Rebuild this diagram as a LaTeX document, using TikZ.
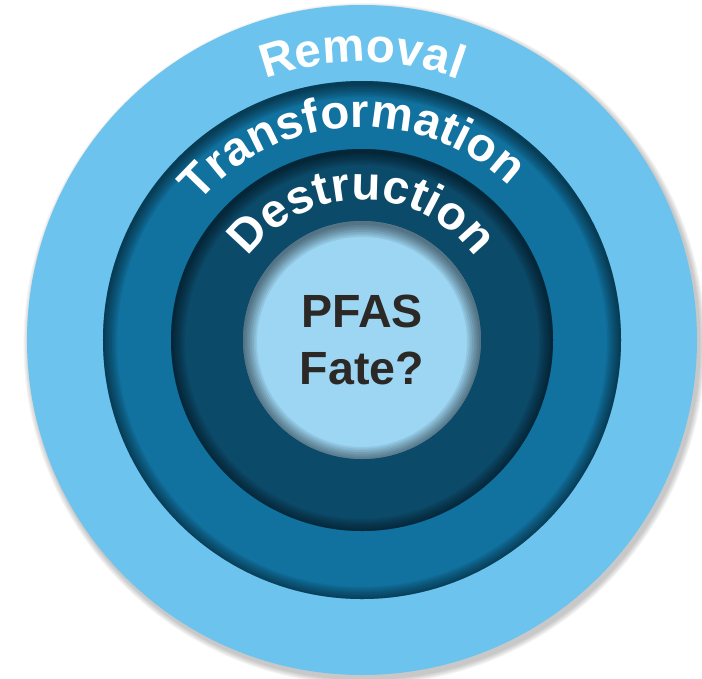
\documentclass[tikz,border=0pt]{standalone}
\usepackage{fontspec}
\setmainfont{Liberation Sans}
\usetikzlibrary{decorations.text}

\definecolor{ringlight}{RGB}{108,196,238}
\definecolor{ringmid}{RGB}{17,113,159}
\definecolor{ringdark}{RGB}{12,74,105}
\definecolor{corelight}{RGB}{157,214,243}
\definecolor{coretext}{RGB}{43,40,38}

\tikzset{
  ringlabel/.style={decorate, decoration={text along path, text align=center,
      text color=white, text={|\fontsize{27}{32}\selectfont\bfseries|#1}}},
}

\begin{document}
\begin{tikzpicture}

  \useasboundingbox (-7.24,-6.76) rectangle (6.80,6.80);

  % Drop shadow of the outer disk
  \foreach \i in {1,...,6}
    \fill[black, opacity=0.04] (0.05,-0.08) circle (6.70+0.02*\i);

  % Disks
  \fill[ringlight] (0,0) circle (6.70);
  \fill[ringmid]   (0,0) circle (5.18);
  \fill[ringdark]  (0,0) circle (3.82);
  \fill[corelight] (0,0) circle (2.38);

  % Inner shadows along each edge
  \foreach \r in {5.18,3.82,2.38} {
    \begin{scope}
      \clip (0,0) circle (\r);
      \foreach \w in {2,4,...,16}
        \draw[black, opacity=0.07, line width=\w pt] (0,-0.04) circle (\r);
    \end{scope}
  }

  % Ring labels
  \path[ringlabel=Removal] (160:5.56) arc[start angle=160, end angle=20, radius=5.56];
  \path[ringlabel=Transformation] (163:4.26) arc[start angle=163, end angle=23, radius=4.26];
  \path[ringlabel=Destruction] (160:2.80) arc[start angle=160, end angle=20, radius=2.80];

  % Core
  \node[text=coretext, font=\fontsize{26.5}{32.4}\selectfont\bfseries, align=center] (fate) at (0,0) {PFAS\\Fate?};

\end{tikzpicture}
\end{document}
